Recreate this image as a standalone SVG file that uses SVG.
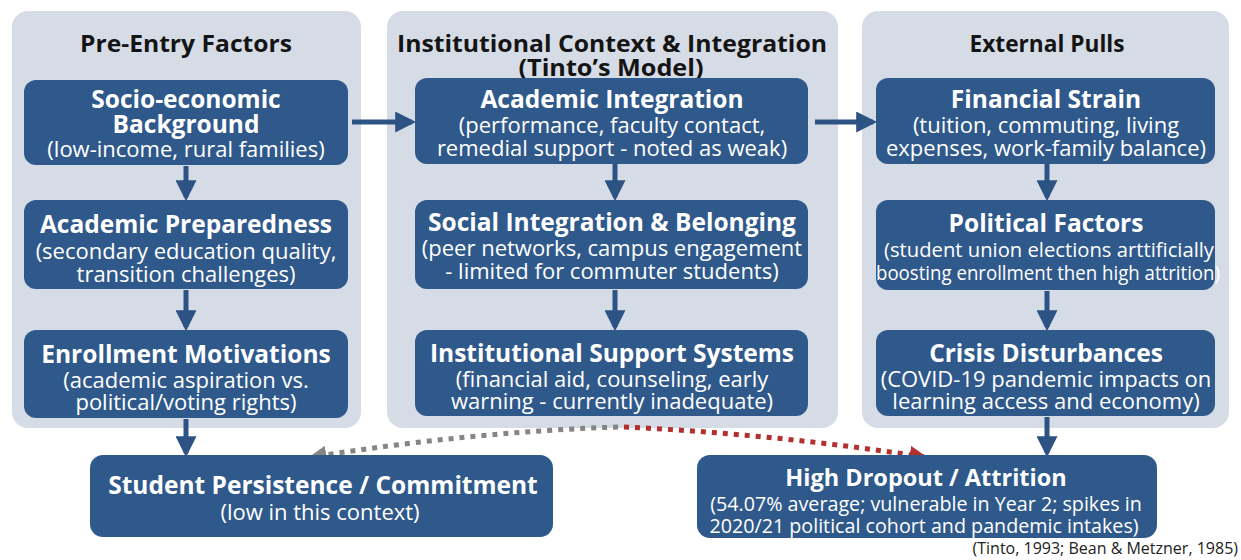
<svg xmlns="http://www.w3.org/2000/svg" width="1241" height="560" viewBox="0 0 1241 560">
  <defs>
    <style>
      .panel { fill: #d6dce6; }
      .node { fill: #30598b; }
      .hdr { font-family: "Open Sans", "DejaVu Sans", sans-serif; font-weight: bold; font-size: 23px; fill: #141414; text-anchor: middle; }
      .ttl { font-family: "Open Sans", "DejaVu Sans", sans-serif; font-weight: bold; font-size: 24.5px; fill: #ffffff; text-anchor: middle; }
      .sub { font-family: "Open Sans", "DejaVu Sans", sans-serif; font-size: 22px; fill: #ffffff; text-anchor: middle; }
      .smt { font-size: 23.5px; }
      .sm { font-size: 19.7px; }
      .pol { font-size: 20.5px; }
      .cite { font-family: "Open Sans", "DejaVu Sans", sans-serif; font-size: 16px; fill: #222222; text-anchor: end; }
      .flow { stroke: #2d5385; stroke-width: 5; fill: none; }
      .dotg { stroke: #858585; stroke-width: 5; stroke-dasharray: 5 6; fill: none; }
      .dotr { stroke: #b3302f; stroke-width: 5; stroke-dasharray: 5 6; fill: none; }
    </style>
    <marker id="ah" viewBox="0 0 10 10" refX="8" refY="5" markerWidth="4.2" markerHeight="4.2" orient="auto" markerUnits="strokeWidth">
      <path d="M0,0 L10,5 L0,10 z" fill="#2d5385"/>
    </marker>
    <marker id="ahg" viewBox="0 0 10 10" refX="8" refY="5" markerWidth="3.6" markerHeight="3.6" orient="auto" markerUnits="strokeWidth">
      <path d="M0,0 L10,5 L0,10 z" fill="#858585"/>
    </marker>
    <marker id="ahr" viewBox="0 0 10 10" refX="8" refY="5" markerWidth="3.6" markerHeight="3.6" orient="auto" markerUnits="strokeWidth">
      <path d="M0,0 L10,5 L0,10 z" fill="#b3302f"/>
    </marker>
  </defs>

  <rect width="1241" height="560" fill="#ffffff"/>

  <!-- column panels -->
  <g id="panel-pre-entry">
    <rect class="panel" x="12" y="11" width="349" height="417" rx="16"/>
    <text class="hdr" x="186" y="52" textLength="212" lengthAdjust="spacingAndGlyphs">Pre-Entry Factors</text>
  </g>
  <g id="panel-institutional">
    <rect class="panel" x="387" y="11" width="451" height="417" rx="16"/>
    <text class="hdr" x="612" y="52" textLength="430" lengthAdjust="spacingAndGlyphs">Institutional Context &amp; Integration</text>
    <text class="hdr" x="611" y="76" textLength="185" lengthAdjust="spacingAndGlyphs">(Tinto’s Model)</text>
  </g>
  <g id="panel-external">
    <rect class="panel" x="862" y="11" width="367" height="417" rx="16"/>
    <text class="hdr" x="1047" y="52" textLength="155" lengthAdjust="spacingAndGlyphs">External Pulls</text>
  </g>

  <!-- connectors -->
  <g id="connectors">
    <line class="flow" x1="186" y1="166" x2="186" y2="197" marker-end="url(#ah)"/>
    <line class="flow" x1="186" y1="290" x2="186" y2="327" marker-end="url(#ah)"/>
    <line class="flow" x1="186" y1="419" x2="186" y2="453" marker-end="url(#ah)"/>
    <line class="flow" x1="615" y1="164" x2="615" y2="197" marker-end="url(#ah)"/>
    <line class="flow" x1="615" y1="290" x2="615" y2="327" marker-end="url(#ah)"/>
    <line class="flow" x1="1047" y1="164" x2="1047" y2="197" marker-end="url(#ah)"/>
    <line class="flow" x1="1047" y1="291" x2="1047" y2="327" marker-end="url(#ah)"/>
    <line class="flow" x1="1047" y1="417" x2="1047" y2="453" marker-end="url(#ah)"/>
    <line class="flow" x1="352" y1="122" x2="412" y2="122" marker-end="url(#ah)"/>
    <line class="flow" x1="815" y1="122" x2="873" y2="122" marker-end="url(#ah)"/>
    <path class="dotg" d="M618,427 Q470,432 312,457" marker-end="url(#ahg)"/>
    <path class="dotr" d="M624,427 Q775,434 924,457" marker-end="url(#ahr)"/>
  </g>

  <!-- pre-entry nodes -->
  <g id="node-socioeconomic">
    <rect class="node" x="24" y="80" width="324" height="85" rx="12"/>
    <text class="ttl" x="186" y="108">Socio-economic</text>
    <text class="ttl" x="186" y="133">Background</text>
    <text class="sub" x="186" y="157">(low-income, rural families)</text>
  </g>
  <g id="node-preparedness">
    <rect class="node" x="24" y="200" width="324" height="89" rx="12"/>
    <text class="ttl" x="186" y="233">Academic Preparedness</text>
    <text class="sub" x="186" y="259">(secondary education quality,</text>
    <text class="sub" x="186" y="282">transition challenges)</text>
  </g>
  <g id="node-motivations">
    <rect class="node" x="24" y="330" width="324" height="88" rx="12"/>
    <text class="ttl" x="186" y="363">Enrollment Motivations</text>
    <text class="sub" x="186" y="388">(academic aspiration vs.</text>
    <text class="sub" x="186" y="410">political/voting rights)</text>
  </g>

  <!-- institutional nodes -->
  <g id="node-academic-integration">
    <rect class="node" x="415" y="78" width="393" height="86" rx="12"/>
    <text class="ttl" x="612" y="108">Academic Integration</text>
    <text class="sub" x="612" y="133">(performance, faculty contact,</text>
    <text class="sub" x="612" y="156">remedial support - noted as weak)</text>
  </g>
  <g id="node-social-integration">
    <rect class="node" x="415" y="200" width="393" height="89" rx="12"/>
    <text class="ttl" x="612" y="231">Social Integration &amp; Belonging</text>
    <text class="sub" x="612" y="256">(peer networks, campus engagement</text>
    <text class="sub" x="612" y="279">- limited for commuter students)</text>
  </g>
  <g id="node-support-systems">
    <rect class="node" x="415" y="330" width="393" height="86" rx="12"/>
    <text class="ttl" x="612" y="362">Institutional Support Systems</text>
    <text class="sub" x="612" y="387">(financial aid, counseling, early</text>
    <text class="sub" x="612" y="409">warning - currently inadequate)</text>
  </g>

  <!-- external nodes -->
  <g id="node-financial">
    <rect class="node" x="876" y="78" width="339" height="86" rx="12"/>
    <text class="ttl" x="1046" y="108">Financial Strain</text>
    <text class="sub" x="1046" y="133">(tuition, commuting, living</text>
    <text class="sub" x="1046" y="156">expenses, work-family balance)</text>
  </g>
  <g id="node-political">
    <rect class="node" x="876" y="200" width="339" height="90" rx="12"/>
    <text class="ttl" x="1046" y="232">Political Factors</text>
    <text class="sub pol" x="1049" y="257" textLength="330" lengthAdjust="spacingAndGlyphs">(student union elections arttificially</text>
    <text class="sub pol" x="1048" y="280" textLength="344" lengthAdjust="spacingAndGlyphs">boosting enrollment then high attrition)</text>
  </g>
  <g id="node-crisis">
    <rect class="node" x="876" y="330" width="339" height="86" rx="12"/>
    <text class="ttl" x="1046" y="362">Crisis Disturbances</text>
    <text class="sub" x="1046" y="387">(COVID-19 pandemic impacts on</text>
    <text class="sub" x="1046" y="409">learning access and economy)</text>
  </g>

  <!-- outcome nodes -->
  <g id="node-persistence">
    <rect class="node" x="90" y="455" width="463" height="82" rx="13"/>
    <text class="ttl" x="323" y="494">Student Persistence / Commitment</text>
    <text class="sub" x="320" y="520">(low in this context)</text>
  </g>
  <g id="node-dropout">
    <rect class="node" x="697" y="455" width="460" height="83" rx="13"/>
    <text class="ttl smt" x="926" y="486">High Dropout / Attrition</text>
    <text class="sub sm" x="926" y="511">(54.07% average; vulnerable in Year 2; spikes in</text>
    <text class="sub sm" x="924" y="533">2020/21 political cohort and pandemic intakes)</text>
  </g>

  <text class="cite" x="1238" y="554">(Tinto, 1993; Bean &amp; Metzner, 1985)</text>
</svg>
